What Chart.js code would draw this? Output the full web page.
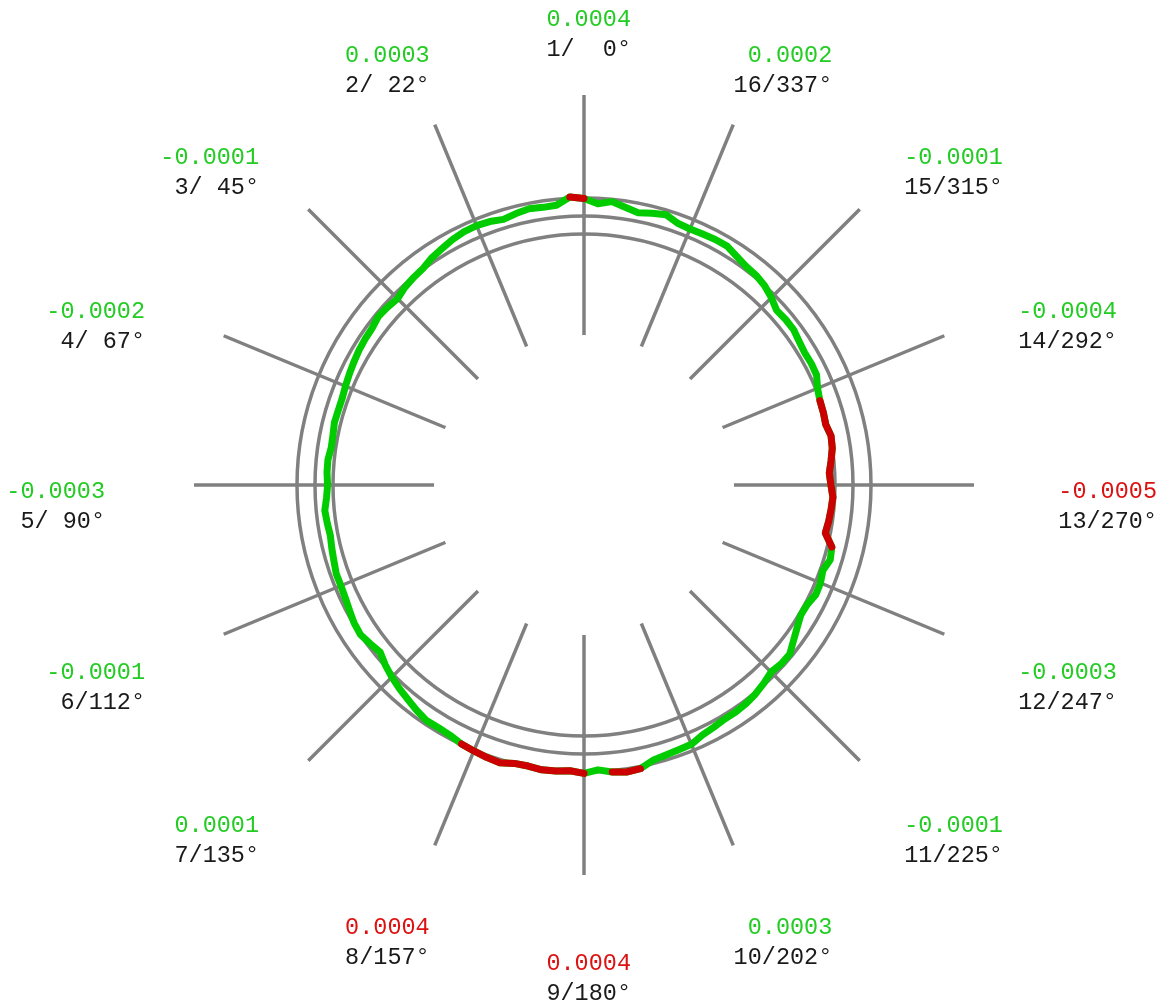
<!DOCTYPE html>
<html>
<head>
<meta charset="utf-8">
<script src="https://cdn.jsdelivr.net/npm/chart.js@4.4.1/dist/chart.umd.min.js"></script>
<style>
    html, body { margin: 0; padding: 0; background: #fff; }
    #wrap { width: 1164px; height: 1005px; position: relative; }
</style>
</head>
<body>
<div id="wrap"><canvas id="chart"></canvas></div>
<script>
// Roundness profile: deviation in µm, one value every 2.8125°,
// counter-clockwise starting from 0° at the top.
const profileDev = [
     0.39,  0.43,  0.27,  0.26,  0.28,  0.24,  0.19,  0.24,   //   0° ..
     0.26,  0.25,  0.21,  0.15,  0.10,  0.02, -0.01, -0.05,   //  22.5°
    -0.12, -0.09, -0.07, -0.12, -0.13, -0.15, -0.18, -0.21,   //  45°
    -0.24, -0.27, -0.27, -0.26, -0.29, -0.30, -0.26, -0.26,   //  67.5°
    -0.28, -0.25, -0.19, -0.21, -0.23, -0.20, -0.17, -0.13,   //  90°
    -0.13, -0.11, -0.07, -0.02,  0.00, -0.06, -0.12, -0.02,   // 112.5°
     0.06,  0.13,  0.19,  0.26,  0.32,  0.31,  0.33,  0.39,   // 135°
     0.42,  0.45,  0.47,  0.40,  0.39,  0.42,  0.41,  0.38,   // 157.5°
     0.43,  0.36,  0.43,  0.47,  0.45,  0.33,  0.29,  0.27,   // 180°
     0.26,  0.17,  0.13,  0.09,  0.09,  0.07,  0.03, -0.03,   // 202.5°
    -0.10, -0.06, -0.06, -0.18, -0.28, -0.36, -0.35, -0.28,   // 225°
    -0.29, -0.34, -0.26, -0.30, -0.51, -0.48, -0.46, -0.44,   // 247.5°
    -0.49, -0.52, -0.46, -0.40, -0.38, -0.44, -0.42, -0.41,   // 270°
    -0.36, -0.26, -0.25, -0.26, -0.23, -0.18, -0.18, -0.20,   // 292.5°
    -0.09,  0.00,  0.05,  0.07,  0.13,  0.21,  0.21,  0.19,   // 315°
     0.18,  0.20,  0.30,  0.25,  0.19,  0.26,  0.35,  0.28,   // 337.5°
];

// Spoke labels, one every 22.5° (every 8th sample).
const spokeLabels = [
    '1/  0°', '2/ 22°', '3/ 45°', '4/ 67°', '5/ 90°', '6/112°', '7/135°', '8/157°',
    '9/180°', '10/202°', '11/225°', '12/247°', '13/270°', '14/292°', '15/315°', '16/337°',
];
const SPOKE_STEP = 8;

// Tolerance band (µm) and reference circles.
const tolerance = 0.4;
const gridValues = [-0.4, 0, 0.4];

const GREEN = '#00cc00';
const RED = '#cc0000';
const GRAY = '#808080';

// Scale: 0 µm sits at 269 px, 45 px per µm, spokes reach 390 px.
const SCALE_MIN = -269 / 45;
const SCALE_MAX = 121 / 45;
const SPOKE_INNER = -119 / 45;

// Radar goes clockwise, the profile goes counter-clockwise.
const n = profileDev.length;
const chartData = profileDev.map((v, i) => profileDev[(n - i) % n]);
const chartLabels = profileDev.map((v, i) => {
    const j = (n - i) % n;
    return j % SPOKE_STEP === 0 ? spokeLabels[j / SPOKE_STEP] : '';
});

// Segment i -> i+1 is out of tolerance when its middle is outside the band.
const segOut = chartData.map((v, i) => Math.abs((v + chartData[(i + 1) % n]) / 2) > tolerance);
// Red overlay keeps only the points that touch an out-of-tolerance segment.
const redData = chartData.map((v, i) => (segOut[i] || segOut[(i - 1 + n) % n]) ? v : null);

// Hide the inner part of the spokes.
const maskPlugin = {
    id: 'mask',
    beforeDatasetsDraw(chart) {
        const s = chart.scales.r;
        const ctx = chart.ctx;
        ctx.save();
        ctx.fillStyle = '#fff';
        ctx.beginPath();
        ctx.arc(s.xCenter, s.yCenter, s.getDistanceFromCenterForValue(SPOKE_INNER), 0, Math.PI * 2);
        ctx.fill();
        ctx.restore();
    },
};

// Two-line labels: deviation value (coloured) and point/angle.
const labelPlugin = {
    id: 'spokeText',
    afterDraw(chart) {
        const s = chart.scales.r;
        const ctx = chart.ctx;
        ctx.save();
        ctx.font = '23.5px "Liberation Mono", monospace';
        ctx.textAlign = 'right';
        ctx.textBaseline = 'middle';
        spokeLabels.forEach((label, k) => {
            const j = k * SPOKE_STEP;
            const i = (n - j) % n;
            const p = s.getPointPosition(i, 100);
            const ux = (p.x - s.xCenter) / 100;
            const uy = (p.y - s.yCenter) / 100;
            const x = s.xCenter + 47 + ux * 526;
            const y = s.yCenter + 22 + uy * 472;
            const v = profileDev[j];
            ctx.fillStyle = Math.abs(v) > tolerance ? '#dd1111' : '#22cc22';
            ctx.fillText((v / 1000).toFixed(4), x, y - 15);
            ctx.fillStyle = '#1a1a1a';
            ctx.fillText(label, x, y + 15);
        });
        ctx.restore();
    },
};

const lineStyle = {
    borderWidth: 7,
    borderCapStyle: 'round',
    borderJoinStyle: 'round',
    pointRadius: 0,
    fill: false,
    tension: 0,
};

new Chart(document.getElementById('chart'), {
    type: 'radar',
    data: {
        labels: chartLabels,
        // Datasets are painted last-to-first, so the red overlay goes first.
        datasets: [
            { ...lineStyle, data: redData, borderColor: RED, spanGaps: false },
            { ...lineStyle, data: chartData, borderColor: GREEN },
        ],
    },
    options: {
        responsive: true,
        maintainAspectRatio: false,
        animation: false,
        layout: { padding: { left: 194, top: 95, right: 190, bottom: 130 } },
        plugins: {
            legend: { display: false },
            tooltip: { enabled: false },
        },
        scales: {
            r: {
                min: SCALE_MIN,
                max: SCALE_MAX,
                ticks: { display: false },
                afterBuildTicks: (scale) => {
                    scale.ticks = [SCALE_MIN, ...gridValues].map(v => ({ value: v }));
                },
                grid: { circular: true, color: GRAY, lineWidth: 3.5 },
                angleLines: {
                    color: GRAY,
                    lineWidth: (c) => (c.index % SPOKE_STEP === 0 ? 3.5 : 0),
                },
                pointLabels: { display: false },
            },
        },
    },
    plugins: [maskPlugin, labelPlugin],
});
</script>
</body>
</html>
